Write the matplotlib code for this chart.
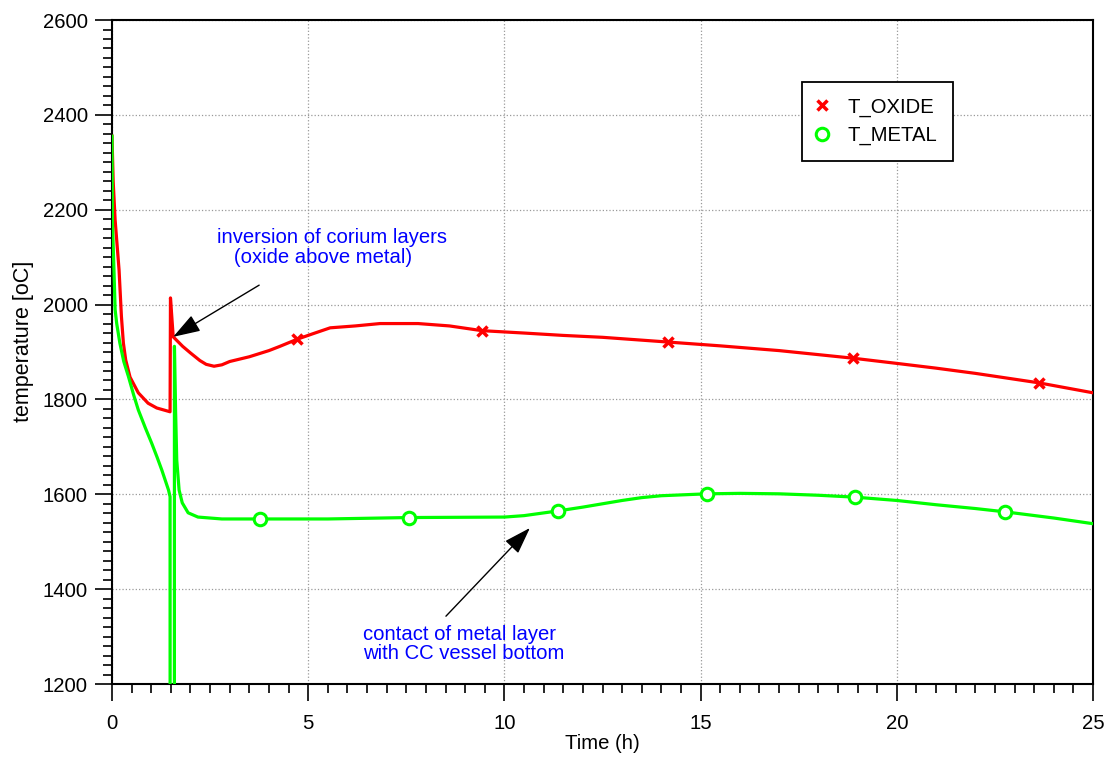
import numpy as np
import matplotlib
matplotlib.use('Agg')
import matplotlib.pyplot as plt
from matplotlib.lines import Line2D

plt.rcParams['font.family'] = ['Liberation Sans', 'DejaVu Sans']

# oxide layer temperature (h, oC)
oxide_t = [0, 0.03, 0.08, 0.18, 0.24, 0.29, 0.35, 0.46, 0.67, 0.92, 1.14, 1.48, 1.49, 1.56,
           1.8, 2.0, 2.24, 2.4, 2.6, 2.8, 3.0, 3.5, 4.0, 4.28, 4.72, 5.1, 5.56, 6.2, 6.83,
           7.8, 8.6, 9.43, 10.5, 11.5, 12.5, 14.17, 15.5, 17.0, 18.88, 20.0, 21.0, 22.0,
           23.62, 25.0]
oxide_T = [2355, 2260, 2178, 2073, 1975, 1919, 1883, 1847, 1814, 1792, 1782, 1774, 2014, 1932,
           1912, 1898, 1882, 1874, 1870, 1873, 1880, 1890, 1903, 1912, 1927, 1938, 1951, 1955, 1960,
           1960, 1955, 1945, 1940, 1935, 1931, 1921, 1913, 1903, 1887, 1876, 1866, 1855,
           1835, 1814]
oxide_mark_t = [4.72, 9.43, 14.17, 18.88, 23.62]
oxide_mark_T = [1927, 1945, 1921, 1887, 1835]

# metal layer temperature (h, oC)
metal_t = [0, 0.01, 0.05, 0.08, 0.12, 0.2, 0.3, 0.42, 0.55, 0.67, 0.85, 1.01, 1.15, 1.27,
           1.44, 1.48, 1.481, 1.59, 1.591, 1.62, 1.65, 1.71, 1.79, 1.94, 2.19, 2.8, 3.77,
           5.5, 7.57, 10.0, 10.5, 11.37, 12.0, 12.5, 13.0, 13.5, 14.0, 15.16, 16.0, 17.0,
           18.0, 18.93, 20.0, 21.0, 22.0, 22.76, 24.0, 25.0]
metal_T = [2355, 2178, 2073, 1989, 1960, 1919, 1880, 1848, 1810, 1778, 1740, 1708, 1678, 1651,
           1609, 1595, 1000, 1000, 1912, 1778, 1672, 1609, 1582, 1561, 1552, 1548, 1548,
           1548, 1551, 1552, 1555, 1565, 1573, 1580, 1587, 1593, 1597, 1601, 1602, 1601,
           1598, 1594, 1587, 1578, 1570, 1563, 1550, 1538]
metal_mark_t = [3.77, 7.57, 11.37, 15.16, 18.93, 22.76]
metal_mark_T = [1548, 1551, 1565, 1601, 1594, 1563]

red = '#ff0000'
green = '#00ff00'
fs = 14.6

fig = plt.figure(figsize=(11.1, 7.67), dpi=100)
ax = fig.add_axes([0.1009, 0.1082, 0.8838, 0.8657])

ax.plot(oxide_t, oxide_T, color=red, lw=2.3, zorder=3)
ax.plot(oxide_mark_t, oxide_mark_T, ls='none', marker='x', color=red,
        ms=7, mew=2.5, zorder=4)
ax.plot(metal_t, metal_T, color=green, lw=2.3, zorder=3)
ax.plot(metal_mark_t, metal_mark_T, ls='none', marker='o', mfc='white', mec=green,
        ms=9, mew=2.2, zorder=4)

ax.set_xlim(0, 25)
ax.set_ylim(1200, 2600)
ax.set_xticks(np.arange(0, 26, 5))
ax.set_xticks(np.arange(0, 25.01, 0.5), minor=True)
ax.set_yticks(np.arange(1200, 2601, 200))
ax.set_yticks(np.arange(1200, 2601, 20), minor=True)
ax.tick_params(which='major', direction='out', length=12.5, width=1.2, labelsize=fs, pad=5)
ax.tick_params(axis='x', which='major', pad=9)
ax.tick_params(which='minor', direction='out', length=6.5, width=1.2)
for s in ax.spines.values():
    s.set_linewidth(1.5)
ax.grid(True, which='major', ls=':', color='#999999', lw=0.9)

ax.set_xlabel('Time (h)', fontsize=fs, labelpad=1)
ax.set_ylabel('temperature [oC]', fontsize=15.5)
ax.yaxis.set_label_coords(-0.079, 0.516)

handles = [Line2D([], [], ls='none', marker='x', color=red, ms=7, mew=2.5),
           Line2D([], [], ls='none', marker='o', mfc='white', mec=green, ms=9, mew=2.2)]
leg = ax.legend(handles, ['T_OXIDE', 'T_METAL'], loc='upper left',
                bbox_to_anchor=(0.703, 0.907), borderaxespad=0, fontsize=fs,
                frameon=True, fancybox=False, handlelength=0.5, handletextpad=1.0,
                borderpad=0.77, labelspacing=0.46)
leg.get_frame().set_edgecolor('black')
leg.get_frame().set_linewidth(1.3)
leg.get_frame().set_alpha(1)

arrow = dict(arrowstyle='-|>,head_length=1.2,head_width=0.4', color='black', lw=1.0,
             shrinkA=0, shrinkB=0, mutation_scale=14)
ax.annotate('', xy=(1.56, 1932), xytext=(3.75, 2041), arrowprops=arrow)
ax.annotate('', xy=(10.65, 1529), xytext=(8.51, 1343), arrowprops=arrow)

ax.text(2.68, 2087, 'inversion of corium layers\n   (oxide above metal)', color='blue',
        fontsize=fs, ha='left', va='baseline', linespacing=1.12)
ax.text(6.4, 1253, 'contact of metal layer\nwith CC vessel bottom', color='blue',
        fontsize=fs, ha='left', va='baseline', linespacing=1.02)

fig.savefig('out.png', dpi=100)
